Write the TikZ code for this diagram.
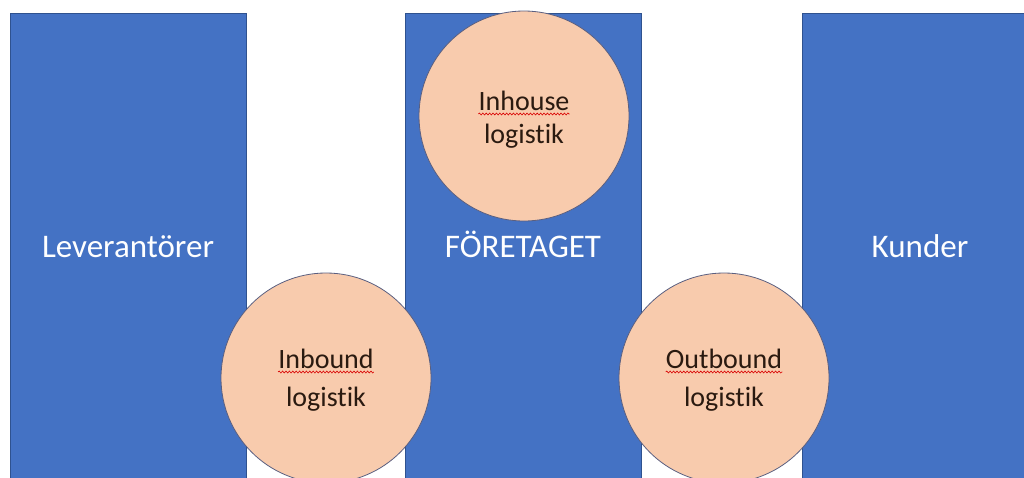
\documentclass[tikz,border=0pt]{standalone}
\usepackage{fontspec}
\setmainfont{Carlito}[RawFeature={-liga;-clig;-calt}]
\usetikzlibrary{decorations.pathmorphing}

\definecolor{partblue}{HTML}{4472C4}
\definecolor{partedge}{HTML}{2F528F}
\definecolor{flowfill}{HTML}{F8CBAD}
\definecolor{flowedge}{HTML}{5A5F80}
\definecolor{flowtext}{HTML}{2A1A10}

\begin{document}
\begin{tikzpicture}
[x=1pt, y=-1pt,
 every node/.style={inner sep=0pt},
 part/.style={rectangle, minimum width=236pt, minimum height=472pt, text height=23pt, text depth=7pt, fill=partblue, draw=partedge, line width=0.8pt, text=white, font=\fontsize{33}{40}\selectfont},
 flow/.style={circle, minimum size=210pt, fill=flowfill, draw=flowedge, line width=0.8pt},
 word/.style={text=flowtext, font=\fontsize{28}{34}\selectfont, anchor=base},
 squiggle/.style={draw=red!85!black, line width=0.6pt, decorate, decoration={snake, amplitude=1pt, segment length=3.4pt}}]
\useasboundingbox (0,0) rectangle (1024,477);
\clip (0,0) rectangle (1024,477);
% the three parties
\node (lev) [part] at (128, 249) {Leverantörer};
\node (ftg) [part] at (523, 249) {FÖRETAGET};
\node (kun) [part] at (920, 249) {Kunder};
% the logistics circles
\node (inb) [flow] at (326, 378) {};
\node (inh) [flow] at (524, 116) {};
\node (outb) [flow] at (724, 378) {};
\node (inb1) [word] at (326, 368) {Inbound};
\node (inb2) [word] at (326, 406) {logistik};
\node (inh1) [word] at (524, 110) {Inhouse};
\node (inh2) [word] at (524, 143) {logistik};
\node (outb1) [word] at (724, 368) {Outbound};
\node (outb2) [word] at (724, 406) {logistik};
\draw [squiggle] ([yshift=-4pt]inb1.base west) -- ([yshift=-4pt]inb1.base east);
\draw [squiggle] ([yshift=-4pt]inh1.base west) -- ([yshift=-4pt]inh1.base east);
\draw [squiggle] ([yshift=-4pt]outb1.base west) -- ([yshift=-4pt]outb1.base east);
\end{tikzpicture}
\end{document}
